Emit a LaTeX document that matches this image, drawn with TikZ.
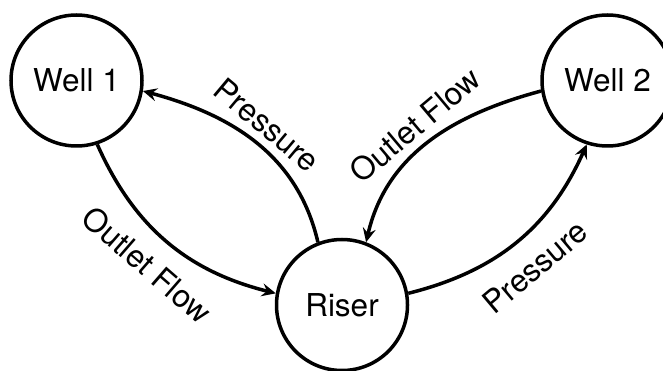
\documentclass[tikz,border=0pt]{standalone}
\usepackage{fontspec}
\setmainfont{TeX Gyre Heros}
\usetikzlibrary{arrows.meta}
\begin{document}
\begin{tikzpicture}[x=1pt,y=1pt,
  state/.style={circle,draw,line width=3.5pt,minimum size=131pt,inner sep=0pt,font=\fontsize{31.5}{34}\selectfont},
  edge/.style={line width=3.5pt,-{Stealth[length=14pt,width=13pt,inset=5pt]}},
  lbl/.style={font=\fontsize{31.5}{34}\selectfont,inner sep=0pt}]
\useasboundingbox (0,0) rectangle (663,-371);
\clip (0,0) rectangle (663,-371);
\node[state] (w1) at (76.5,-80.5) {Well 1};
\node[state] (w2) at (607.5,-80.5) {Well 2};
\node[state] (r) at (342,-305) {Riser};
\draw[edge] (w1.-72) to[out=-66,in=166] (r.170);
\draw[edge] (r.111) to[out=103,in=-15] (w1.-9);
\draw[edge] (w2.189) to[out=195,in=77] (r.69);
\draw[edge] (r.10) to[out=14,in=-114] (w2.-108);
\node[lbl,rotate=-41] (l1) at (147,-265) {Outlet Flow};
\node[lbl,rotate=-40] (l2) at (267,-125) {Pressure};
\node[lbl,rotate=40] (l3) at (415,-125) {Outlet Flow};
\node[lbl,rotate=40] (l4) at (535,-267) {Pressure};
\end{tikzpicture}
\end{document}
